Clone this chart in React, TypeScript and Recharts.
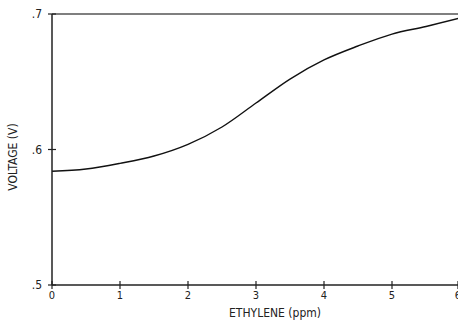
import React from "react";
import { LineChart, Line, XAxis, YAxis, ReferenceLine, Label } from "recharts";

// ethylene concentration (ppm) vs sensor output voltage (V)
const ppm = [0, 0.5, 1, 1.5, 2, 2.5, 3, 3.5, 4, 4.5, 5, 5.5, 6];
const voltage = [0.5839, 0.5856, 0.5898, 0.5952, 0.6038, 0.6166, 0.6343, 0.652, 0.6661, 0.6764, 0.6852, 0.6908, 0.697];
const xTicks = [0, 1, 2, 3, 4, 5, 6];
const yTicks = [0.5, 0.6, 0.7];

const data = ppm.map((p, i) => ({ ppm: p, v: voltage[i] }));

const FONT = '"DejaVu Sans Condensed", "Liberation Sans Narrow", "Liberation Sans", sans-serif';
const INK = "#222";

const fmtY = (v: number) => v.toFixed(1).replace(/^0/, "");

function XTick(props: any) {
  const { x, y, payload } = props;
  return (
    <g>
      <line x1={x} x2={x} y1={y - 4} y2={y + 4} stroke={INK} strokeWidth={1.2} />
      <text x={x} y={y + 14} textAnchor="middle" fontSize={11} fontFamily={FONT} fill={INK}>
        {payload.value}
      </text>
    </g>
  );
}

function YTick(props: any) {
  const { x, y, payload } = props;
  return (
    <g>
      <line x1={x - 4} x2={x + 4} y1={y} y2={y} stroke={INK} strokeWidth={1.2} />
      <text x={x - 10} y={y + 4} textAnchor="end" fontSize={12} fontFamily={FONT} fill={INK}>
        {fmtY(payload.value)}
      </text>
    </g>
  );
}

export default function App() {
  return (
    <div style={{ position: "absolute", left: 0, top: 0, width: 458, height: 324, overflow: "hidden", background: "#fff" }}>
      <LineChart width={462} height={324} data={data} margin={{ top: 14, right: 2, bottom: 0, left: 0 }}>
        <XAxis
          dataKey="ppm"
          type="number"
          domain={[0, 6]}
          ticks={xTicks}
          tickSize={0}
          tickMargin={0}
          tick={<XTick />}
          height={39}
          stroke={INK}
          strokeWidth={1.5}
        >
          <Label
            content={() => (
              <text x={275} y={317} textAnchor="middle" fontSize={12} fontFamily={FONT} fill={INK}>
                ETHYLENE (ppm)
              </text>
            )}
          />
        </XAxis>
        <YAxis
          type="number"
          domain={[0.5, 0.7]}
          ticks={yTicks}
          tickSize={0}
          tickMargin={0}
          tick={<YTick />}
          width={52}
          stroke={INK}
          strokeWidth={1.5}
        >
          <Label
            content={() => (
              <text
                transform="translate(17,157) rotate(-90)"
                textAnchor="middle"
                fontSize={12}
                fontFamily={FONT}
                fill={INK}
              >
                VOLTAGE (V)
              </text>
            )}
          />
        </YAxis>
        <ReferenceLine y={0.7} stroke="#555" strokeWidth={1.5} />
        <Line
          type="monotone"
          dataKey="v"
          stroke="#111"
          strokeWidth={1.4}
          dot={false}
          isAnimationActive={false}
        />
      </LineChart>
    </div>
  );
}
